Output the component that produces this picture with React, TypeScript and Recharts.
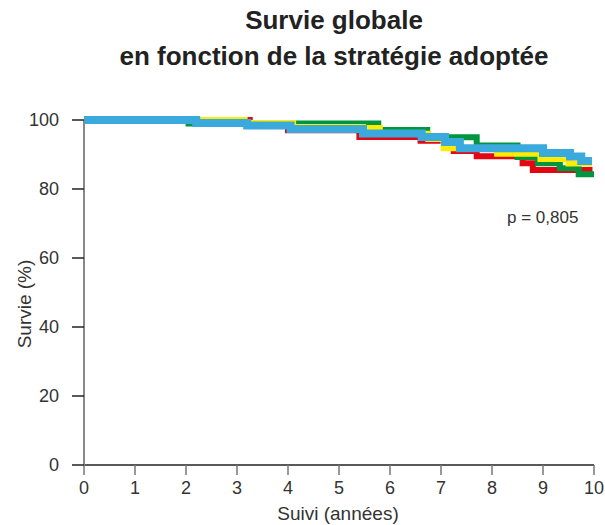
import { Label, Line, LineChart, XAxis, YAxis } from "recharts"

// Kaplan-Meier steps (time in years, survival in %)
const redTime = [0, 3.25, 4.0, 5.4, 6.6, 7.08, 7.25, 7.7, 8.6, 8.8, 9.97]
const redSurv = [100, 98.4, 97.0, 95.1, 94.0, 92.0, 91.0, 89.5, 87.5, 85.5, 85.5]

const greenTime = [0, 2.05, 5.77, 6.73, 7.7, 8.5, 8.9, 9.33, 9.7, 10]
const greenSurv = [100, 99.0, 97.1, 95.0, 92.6, 89.3, 87.5, 86.0, 84.3, 84.3]

const yellowTime = [0, 3.15, 4.1, 5.47, 5.8, 6.75, 7.05, 8.1, 8.95, 9.5, 9.96]
const yellowSurv = [100, 99.1, 98.0, 97.7, 96.0, 94.5, 91.8, 90.2, 88.7, 87.4, 87.4]

const blueTime = [0, 2.2, 3.2, 4.05, 5.47, 6.62, 7.08, 7.37, 9.0, 9.53, 9.75, 9.96]
const blueSurv = [100, 99.1, 98.4, 97.4, 96.1, 95.1, 93.6, 91.8, 90.4, 89.4, 88.1, 88.1]

const xTicks = [0, 1, 2, 3, 4, 5, 6, 7, 8, 9, 10]
const yTicks = [0, 20, 40, 60, 80, 100]

const toPoints = (time: number[], surv: number[]) =>
  time.map((t, i) => ({ t, s: surv[i] }))

const series = [
  { name: "red", color: "#e30613", width: 6, data: toPoints(redTime, redSurv) },
  { name: "green", color: "#00963f", width: 6, data: toPoints(greenTime, greenSurv) },
  { name: "yellow", color: "#ffec00", width: 6, data: toPoints(yellowTime, yellowSurv) },
  { name: "blue", color: "#3aa9de", width: 8, data: toPoints(blueTime, blueSurv) },
]

const font = "Arial, 'Liberation Sans', sans-serif"
const tickStyle = { fill: "#333", fontSize: 18, fontFamily: font }

export default function App() {
  return (
    <div style={{ position: "relative", width: 605, height: 525, fontFamily: font }}>
      <style>{"body{margin:0}"}</style>
      <div
        style={{
          position: "absolute",
          left: 64,
          top: 2,
          width: 540,
          textAlign: "center",
          fontSize: 26,
          fontWeight: "bold",
          lineHeight: "36px",
          color: "#222",
        }}
      >
        Survie globale
        <br />
        en fonction de la stratégie adoptée
      </div>
      <div style={{ position: "absolute", left: 507, top: 209, fontSize: 17, lineHeight: "17px", color: "#333" }}>
        p = 0,805
      </div>
      <LineChart width={605} height={525} margin={{ top: 120, right: 11, bottom: 0, left: 0 }}>
        <XAxis
          type="number"
          dataKey="t"
          domain={[0, 10]}
          ticks={xTicks}
          allowDuplicatedCategory={false}
          axisLine={{ stroke: "#222", strokeWidth: 1.5 }}
          tickLine={{ stroke: "#777", strokeWidth: 1.5 }}
          tickSize={10}
          tickMargin={6}
          tick={tickStyle}
          height={60}
        >
          <Label
            content={() => (
              <text x={338} y={520} textAnchor="middle" fill="#333" fontSize={19} fontFamily={font}>
                Suivi (années)
              </text>
            )}
          />
        </XAxis>
        <YAxis
          type="number"
          domain={[0, 100]}
          ticks={yTicks}
          axisLine={{ stroke: "#888", strokeWidth: 2 }}
          tickLine={{ stroke: "#222", strokeWidth: 1.5 }}
          tickSize={12}
          tickMargin={13}
          tick={tickStyle}
          width={84}
        >
          <Label
            content={() => (
              <text
                x={31}
                y={304}
                transform="rotate(-90 31 304)"
                textAnchor="middle"
                fill="#333"
                fontSize={19}
                fontFamily={font}
              >
                Survie (%)
              </text>
            )}
          />
        </YAxis>
        {series.map((sr) => (
          <Line
            key={sr.name}
            data={sr.data}
            dataKey="s"
            type="stepAfter"
            stroke={sr.color}
            strokeWidth={sr.width}
            dot={false}
            activeDot={false}
            isAnimationActive={false}
          />
        ))}
      </LineChart>
    </div>
  )
}
